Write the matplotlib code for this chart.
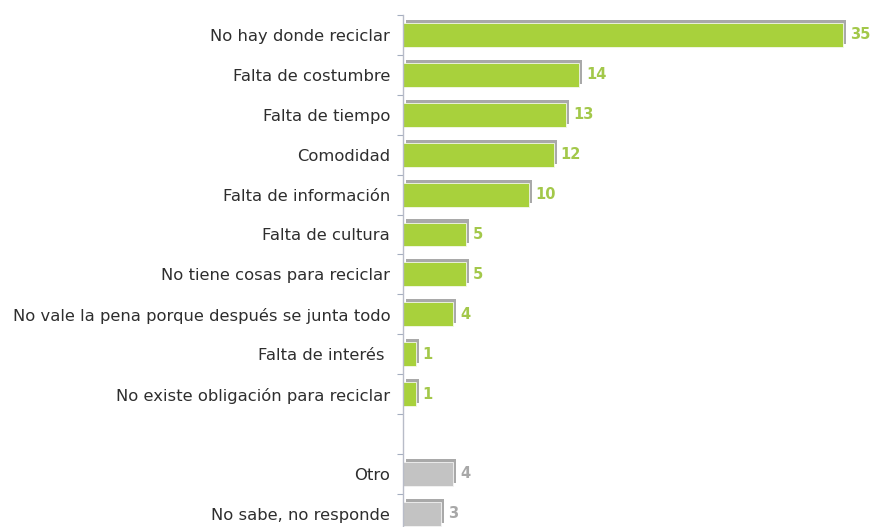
import matplotlib
matplotlib.use("Agg")
import matplotlib.pyplot as plt
import matplotlib.patheffects as pe
import numpy as np

categories = [
    "No hay donde reciclar",
    "Falta de costumbre",
    "Falta de tiempo",
    "Comodidad",
    "Falta de información",
    "Falta de cultura",
    "No tiene cosas para reciclar",
    "No vale la pena porque después se junta todo",
    "Falta de interés ",
    "No existe obligación para reciclar",
]
values = [35, 14, 13, 12, 10, 5, 5, 4, 1, 1]
other_categories = ["Otro", "No sabe, no responde"]
other_values = [4, 3]

green = "#a8d13c"
green_txt = "#a3c84a"
grey = "#c3c3c3"
grey_txt = "#a8a8a8"

fig = plt.figure(figsize=(8.78, 5.27), dpi=100)
ax = fig.add_axes([403/878, 0.0, 1 - 403/878, (527 - 15) / 527])

pos_main = np.arange(len(categories))
pos_other = np.arange(len(other_categories)) + len(categories) + 1

shadow = [pe.SimplePatchShadow(offset=(2.2, 2.2), shadow_rgbFace="#a9a9a9", alpha=1.0), pe.Normal()]

b1 = ax.barh(pos_main, values, height=0.6, color=green, edgecolor="#f4f8ec", linewidth=0.6)
b2 = ax.barh(pos_other, other_values, height=0.6, color=grey, edgecolor="#f4f4f4", linewidth=0.6)
for b in list(b1) + list(b2):
    b.set_path_effects(shadow)

for p, v in zip(pos_main, values):
    ax.text(v + 0.55, p, str(v), va="center", ha="left", color=green_txt,
            fontsize=10.5, fontweight="bold")
for p, v in zip(pos_other, other_values):
    ax.text(v + 0.55, p, str(v), va="center", ha="left", color=grey_txt,
            fontsize=10.5, fontweight="bold")

ax.set_xlim(0, 37.8)
ax.set_ylim(12.33, -0.5)

ax.set_yticks(list(pos_main) + list(pos_other))
ax.set_yticklabels(categories + other_categories, fontsize=11.8, color="#2e2e2e")
ax.tick_params(axis="y", which="major", length=0, pad=9.2)
ax.set_yticks(np.arange(-0.5, 12.5, 1.0), minor=True)
ax.tick_params(axis="y", which="minor", length=4, color="#a4aec0", width=0.8)
ax.set_xticks([])

for s in ["top", "right", "bottom"]:
    ax.spines[s].set_visible(False)
ax.spines["left"].set_color("#b8bcc8")
ax.spines["left"].set_linewidth(1.0)

fig.savefig("out.png", dpi=100)
